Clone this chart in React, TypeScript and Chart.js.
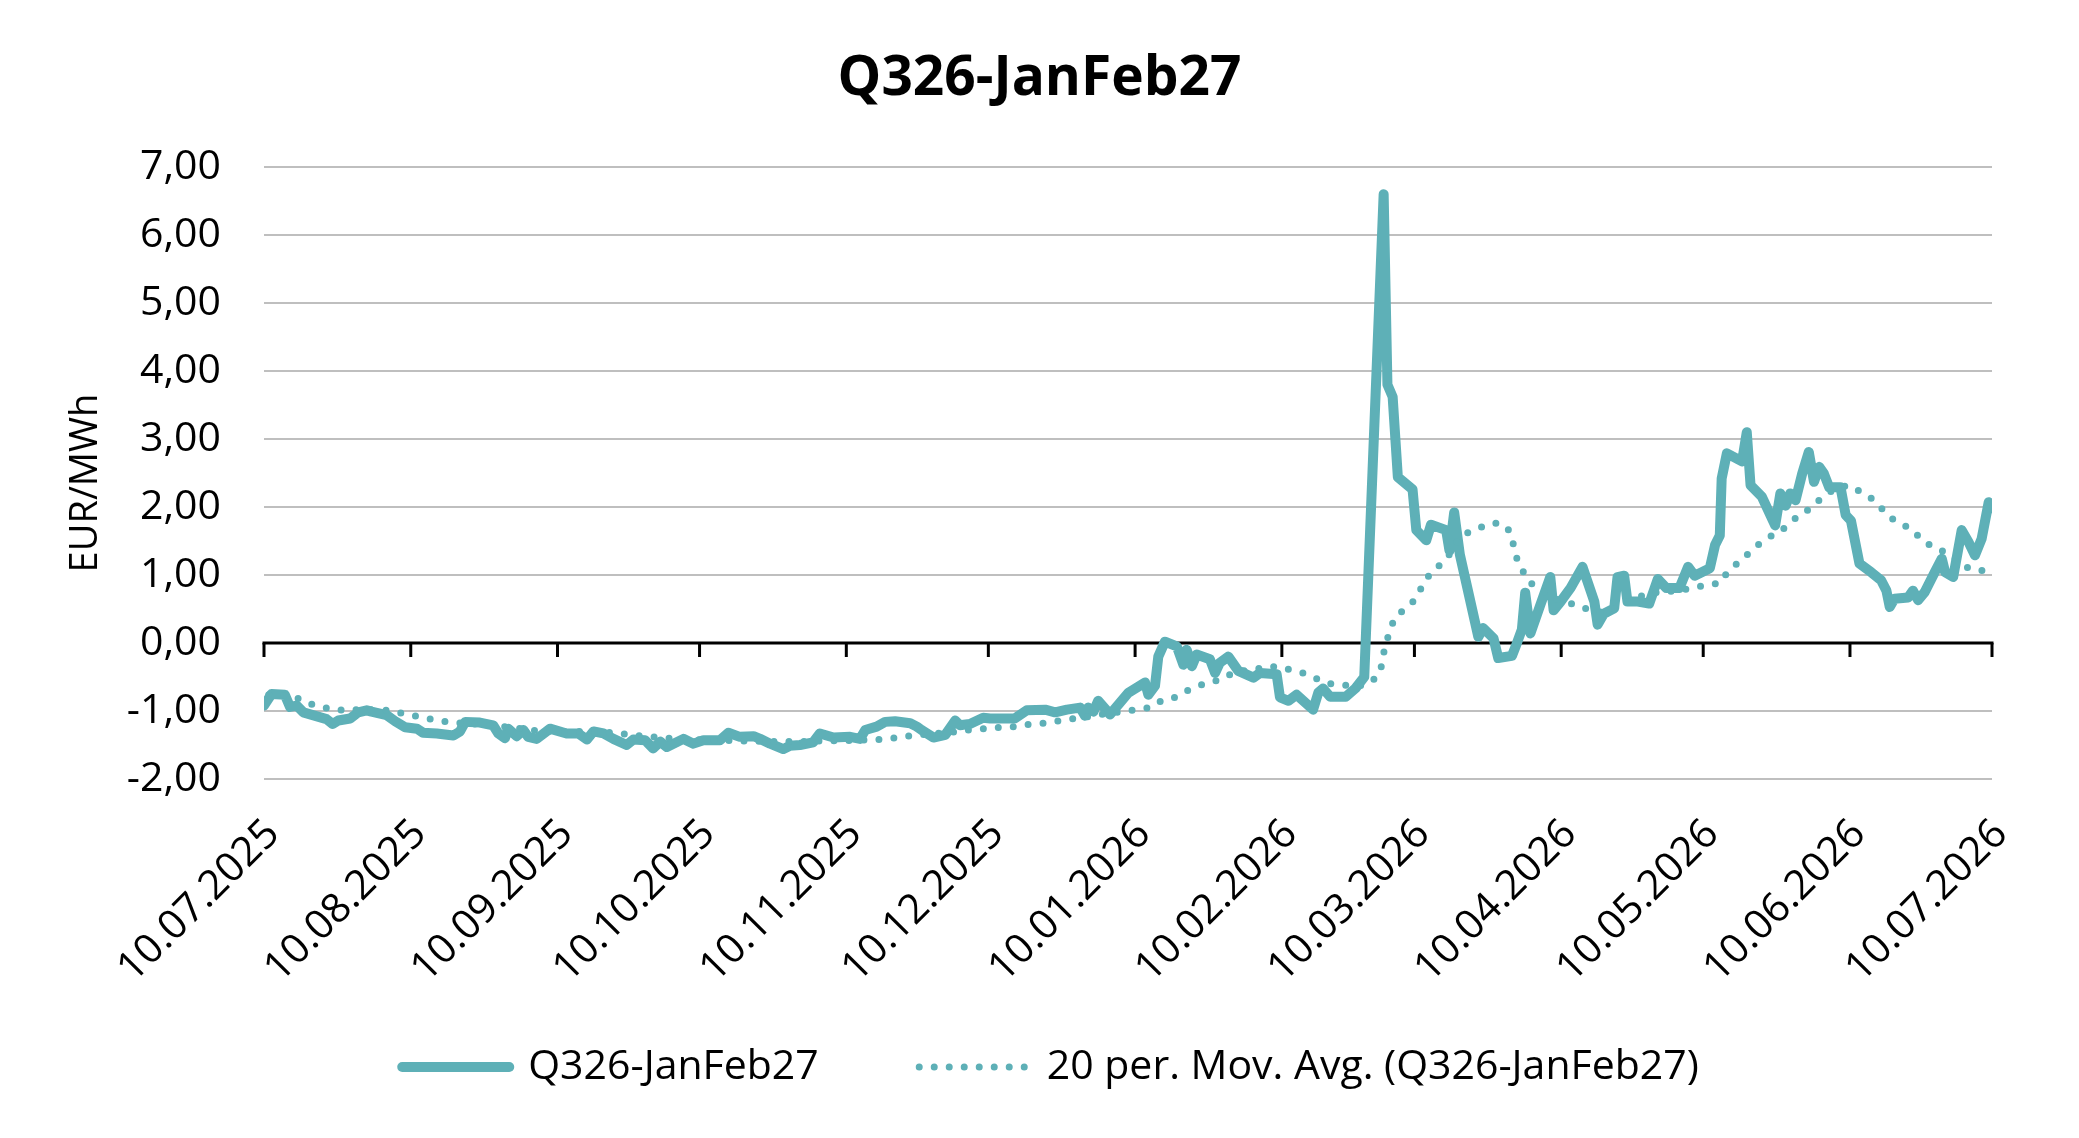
import React, { useEffect, useRef } from 'react';
import { Chart, registerables } from 'chart.js';

Chart.register(...registerables);

const TITLE = 'Q326-JanFeb27';
const SERIES_LABEL = 'Q326-JanFeb27';
const MA_LABEL = '20 per. Mov. Avg. (Q326-JanFeb27)';
const Y_TITLE = 'EUR/MWh';

// x positions are days counted from 10.07.2025
const X_TICK_DAYS = [0, 31, 62, 92, 123, 153, 184, 215, 243, 274, 304, 335, 365];
const X_TICK_LABELS = [
  '10.07.2025', '10.08.2025', '10.09.2025', '10.10.2025', '10.11.2025', '10.12.2025',
  '10.01.2026', '10.02.2026', '10.03.2026', '10.04.2026', '10.05.2026', '10.06.2026', '10.07.2026',
];
const Y_MIN = -2;
const Y_MAX = 7;

const mainDays = [
  0, 1.6, 4.4, 5.5, 6.9, 8.3, 13.2, 14.5, 15.7, 18.2, 19.9, 21.7, 22.7, 25.9, 27.7, 29.8, 32.3, 33.6, 36.5, 40,
  41.4, 42.5, 45.6, 48.4, 49.5, 50.9, 51.6, 53.4, 54.8, 55.8, 57.6, 60.4, 63.9, 66.4, 68.2, 69.6, 71.7, 73.8, 76.6, 78,
  80.5, 82.2, 83.7, 85.1, 88.6, 90.7, 92.8, 96.3, 98.1, 100.5, 103.4, 104.8, 106.9, 109.7, 111.1, 113.2, 116, 117.4, 120.3, 123.8,
  125.9, 127, 129.4, 131.2, 133.3, 136.5, 137.9, 138.9, 141.4, 143.9, 146, 147, 149.1, 151.9, 153.4, 158.6, 161.1, 165, 167.1, 169.6,
  172.4, 173.4, 174.1, 175.2, 176.2, 178.7, 180.8, 182.6, 186.1, 186.8, 188.2, 188.9, 190.3, 192.8, 194.2, 194.9, 196, 197, 199.8, 200.9,
  201.9, 203.7, 205.8, 209, 210.4, 213.9, 214.6, 216.4, 218.1, 221.6, 222.7, 223.7, 225.2, 228.5, 230.5, 232.4, 236.5, 237.3, 238.4, 239.5,
  242.6, 243.4, 245.5, 246.5, 249.7, 250.4, 251.4, 252.6, 256.5, 257.5, 259.7, 260.7, 263.6, 264.6, 265.7, 266.4, 267.5, 269.6, 271.7, 272.4,
  273.9, 276, 278.5, 281, 281.7, 283, 285.2, 285.9, 287.3, 288, 290.2, 292.6, 294.4, 296.2, 299, 300.8, 302.2, 305.4, 306.5, 307.5,
  307.9, 309, 312.2, 313.2, 314, 316.4, 319.2, 320.3, 321.4, 322.4, 323.5, 324.9, 326.3, 327.4, 328.5, 329.5, 330.6, 333, 334.1, 335.2,
  337, 339.5, 341.6, 342.7, 343.4, 344.4, 347.3, 348.3, 349.4, 350.8, 352.9, 354.4, 355.1, 356.8, 358.6, 360, 361.4, 362.8, 364.3, 365,
];
const mainValues = [
  -0.92, -0.75, -0.76, -0.94, -0.92, -1.02, -1.12, -1.19, -1.14, -1.11, -1.02, -0.99, -1.01, -1.06, -1.15, -1.24, -1.26, -1.32, -1.33, -1.36,
  -1.3, -1.16, -1.17, -1.21, -1.33, -1.4, -1.26, -1.37, -1.28, -1.38, -1.41, -1.26, -1.33, -1.33, -1.42, -1.3, -1.33, -1.41, -1.5, -1.42,
  -1.43, -1.55, -1.45, -1.53, -1.41, -1.48, -1.43, -1.43, -1.32, -1.38, -1.37, -1.41, -1.48, -1.56, -1.51, -1.5, -1.46, -1.33, -1.39, -1.38,
  -1.41, -1.28, -1.23, -1.16, -1.15, -1.18, -1.23, -1.28, -1.39, -1.35, -1.14, -1.21, -1.19, -1.1, -1.11, -1.11, -0.99, -0.98, -1.02, -0.98,
  -0.95, -1.07, -0.95, -1.01, -0.85, -1.05, -0.88, -0.73, -0.58, -0.76, -0.63, -0.2, 0.02, -0.05, -0.32, -0.1, -0.34, -0.17, -0.24, -0.44,
  -0.29, -0.2, -0.41, -0.51, -0.44, -0.46, -0.8, -0.85, -0.76, -0.98, -0.73, -0.67, -0.79, -0.79, -0.67, -0.5, 6.6, 3.8, 3.62, 2.44,
  2.26, 1.66, 1.51, 1.74, 1.66, 1.36, 1.92, 1.3, 0.09, 0.22, 0.07, -0.22, -0.19, -0.01, 0.2, 0.74, 0.14, 0.56, 0.97, 0.48,
  0.61, 0.81, 1.12, 0.61, 0.27, 0.43, 0.51, 0.97, 0.99, 0.61, 0.61, 0.58, 0.94, 0.81, 0.81, 1.12, 0.99, 1.1, 1.44, 1.58,
  2.42, 2.79, 2.67, 3.1, 2.32, 2.15, 1.73, 2.2, 2.02, 2.2, 2.1, 2.49, 2.81, 2.37, 2.59, 2.49, 2.29, 2.29, 1.88, 1.8,
  1.17, 1.04, 0.92, 0.77, 0.53, 0.65, 0.67, 0.77, 0.63, 0.75, 1.04, 1.24, 1.04, 0.97, 1.66, 1.49, 1.29, 1.53, 2.07, 1.98,
];

const maDays = [
  1, 6.3, 8.9, 11.7, 14.5, 17.3, 20.3, 23.1, 25.9, 28.9, 31.7, 34.5, 37.3, 40.3, 46, 51.8, 54.6, 57.5, 62, 66.2,
  69, 74.9, 77.7, 80.7, 83.3, 88, 95, 101, 107, 113, 119, 125, 129.8, 132.8, 135.6, 140, 144, 147, 149.8, 152.8,
  155.7, 158.6, 161.4, 164.4, 167.3, 170.1, 172.9, 175.9, 178.7, 181.5, 184.3, 187.2, 189.8, 192.4, 195, 197.7, 200.4, 203, 206, 209,
  211.7, 214.5, 217.1, 219.9, 222.5, 225.2, 228.5, 231.4, 234, 235.8, 236.8, 237.8, 238.7, 240.7, 242.9, 244.3, 245.8, 247.8, 249.9, 252.9,
  255.6, 258.2, 260.9, 263.1, 263.9, 264.6, 265.8, 267.3, 269.6, 272.3, 274.7, 277.5, 280.1, 282.9, 285.6, 288, 290.9, 293.7, 296.4, 299.2,
  302, 304.9, 307.8, 309.2, 311.4, 313.6, 315.7, 318, 320.5, 322.6, 324.9, 327, 329.2, 331.7, 334.5, 336.8, 339.3, 341.4, 343.4, 345.7,
  348.2, 350.2, 352.7, 355.2, 357.5, 360, 362.7, 365,
];
const maValues = [
  -0.76, -0.78, -0.88, -0.93, -0.98, -0.99, -0.98, -0.98, -0.99, -1.03, -1.07, -1.11, -1.15, -1.17, -1.2, -1.24, -1.26, -1.29, -1.3, -1.3,
  -1.31, -1.32, -1.36, -1.37, -1.39, -1.41, -1.43, -1.44, -1.45, -1.45, -1.44, -1.43, -1.42, -1.4, -1.37, -1.34, -1.32, -1.3, -1.27, -1.26,
  -1.24, -1.23, -1.2, -1.18, -1.15, -1.12, -1.1, -1.06, -1.03, -1.01, -0.98, -0.95, -0.84, -0.8, -0.7, -0.62, -0.58, -0.49, -0.42, -0.39,
  -0.35, -0.35, -0.4, -0.45, -0.53, -0.6, -0.62, -0.63, -0.57, -0.42, -0.04, 0.17, 0.35, 0.49, 0.62, 0.79, 0.97, 1.11, 1.25, 1.59,
  1.65, 1.74, 1.77, 1.65, 1.45, 1.25, 1.07, 0.89, 0.8, 0.66, 0.6, 0.56, 0.48, 0.45, 0.51, 0.61, 0.69, 0.74, 0.76, 0.77,
  0.82, 0.85, 0.89, 1.06, 1.18, 1.32, 1.45, 1.56, 1.65, 1.79, 1.9, 2.0, 2.15, 2.26, 2.32, 2.24, 2.14, 2.0, 1.85, 1.75,
  1.67, 1.51, 1.41, 1.33, 1.22, 1.1, 1.06, 1.13,
];

const TEAL = '#5eb0b7';
const FONT = 'Open Sans';
const BODY_SIZE = 41;
const MAIN_WIDTH = 10;
const MA_WIDTH = 7;
const MA_DASH = [0, 15];

const decorPlugin = {
  id: 'decor',
  beforeDatasetsDraw(chart: any) {
    const { ctx, scales } = chart;
    const x = scales.x;
    const y = scales.y;
    const y0 = y.getPixelForValue(0);
    ctx.save();
    ctx.strokeStyle = '#000';
    ctx.lineWidth = 3;
    ctx.beginPath();
    ctx.moveTo(x.getPixelForValue(X_TICK_DAYS[0]) - 1.5, y0);
    ctx.lineTo(x.getPixelForValue(X_TICK_DAYS[X_TICK_DAYS.length - 1]) + 1.5, y0);
    ctx.stroke();
    for (const d of X_TICK_DAYS) {
      const px = x.getPixelForValue(d);
      ctx.beginPath();
      ctx.moveTo(px, y0);
      ctx.lineTo(px, y0 + 14);
      ctx.stroke();
    }
    ctx.restore();
  },
  afterDraw(chart: any) {
    const { ctx } = chart;
    ctx.save();
    // y axis title
    ctx.fillStyle = '#000';
    ctx.font = `38px "${FONT}"`;
    ctx.textAlign = 'center';
    ctx.textBaseline = 'middle';
    ctx.translate(86, 483);
    ctx.rotate(-Math.PI / 2);
    ctx.fillText(Y_TITLE, 0, 0);
    ctx.restore();

    // legend
    const items = chart.data.datasets.map((ds: any) => ({
      label: ds.label,
      width: ds.borderWidth,
      dash: ds.borderDash || [],
    }));
    ctx.save();
    ctx.font = `${BODY_SIZE}px "${FONT}"`;
    const sampleLen = 117;
    const gap = 14;
    const itemGap = 97;
    const widths = items.map((it: any) => ctx.measureText(it.label).width);
    const total =
      items.length * (sampleLen + gap) + widths.reduce((a: number, b: number) => a + b, 0) + itemGap * (items.length - 1);
    let lx = 1048 - total / 2;
    const ly = 1067;
    items.forEach((it: any, i: number) => {
      ctx.strokeStyle = TEAL;
      ctx.lineWidth = it.width;
      ctx.lineCap = 'round';
      ctx.setLineDash(it.dash);
      ctx.beginPath();
      ctx.moveTo(lx + it.width / 2, ly);
      ctx.lineTo(lx + sampleLen - it.width / 2, ly);
      ctx.stroke();
      ctx.setLineDash([]);
      ctx.fillStyle = '#000';
      ctx.textAlign = 'left';
      ctx.textBaseline = 'middle';
      ctx.fillText(it.label, lx + sampleLen + gap, ly);
      lx += sampleLen + gap + widths[i] + itemGap;
    });
    ctx.restore();
  },
};

export default function App() {
  const ref = useRef<HTMLCanvasElement | null>(null);

  useEffect(() => {
    let chart: Chart | null = null;
    let cancelled = false;
    const make = () => {
      if (cancelled || !ref.current) return;
      Chart.defaults.font.family = FONT;
      chart = new Chart(ref.current, {
        type: 'line',
        data: {
          datasets: [
            {
              label: SERIES_LABEL,
              data: mainDays.map((d, i) => ({ x: d, y: mainValues[i] })),
              borderColor: TEAL,
              backgroundColor: TEAL,
              borderWidth: MAIN_WIDTH,
              borderCapStyle: 'round',
              borderJoinStyle: 'round',
              pointRadius: 0,
              tension: 0,
              order: 2,
            },
            {
              label: MA_LABEL,
              data: maDays.map((d, i) => ({ x: d, y: maValues[i] })),
              borderColor: TEAL,
              backgroundColor: TEAL,
              borderWidth: MA_WIDTH,
              borderDash: MA_DASH,
              borderCapStyle: 'round',
              borderJoinStyle: 'round',
              pointRadius: 0,
              tension: 0,
              order: 1,
            },
          ],
        },
        options: {
          animation: false,
          responsive: false,
          devicePixelRatio: 1,
          layout: { padding: { left: 87, right: 87, top: 0, bottom: 0 } },
          plugins: {
            title: {
              display: true,
              text: TITLE,
              color: '#000',
              font: { family: FONT, size: 55, weight: 'bold' },
              padding: { top: 46, bottom: 55 },
            },
            legend: { display: false },
            tooltip: { enabled: false },
          },
          scales: {
            x: {
              type: 'linear',
              min: X_TICK_DAYS[0],
              max: X_TICK_DAYS[X_TICK_DAYS.length - 1],
              afterBuildTicks: (s: any) => {
                s.ticks = X_TICK_DAYS.map((v) => ({ value: v }));
              },
              afterFit: (s: any) => {
                s.height = 359;
              },
              ticks: {
                autoSkip: false,
                minRotation: 45,
                maxRotation: 45,
                padding: 31,
                labelOffset: 9,
                color: '#000',
                font: { family: FONT, size: BODY_SIZE },
                callback: (v: any) => {
                  const i = X_TICK_DAYS.indexOf(Number(v));
                  return i >= 0 ? X_TICK_LABELS[i] : '';
                },
              },
              grid: { display: false, drawTicks: false },
              border: { display: false },
            },
            y: {
              min: Y_MIN,
              max: Y_MAX,
              afterFit: (s: any) => {
                s.width = 177;
              },
              ticks: {
                stepSize: 1,
                padding: 43,
                color: '#000',
                font: { family: FONT, size: BODY_SIZE },
                callback: (v: any) => Number(v).toFixed(2).replace('.', ','),
              },
              grid: { color: '#bfbfbf', lineWidth: 2, drawTicks: false },
              border: { display: false },
            },
          },
        },
        plugins: [decorPlugin],
      } as any);
    };
    const loads = [
      document.fonts.load(`${BODY_SIZE}px "${FONT}"`),
      document.fonts.load(`bold 55px "${FONT}"`),
    ];
    Promise.all(loads).then(make, make);
    return () => {
      cancelled = true;
      if (chart) chart.destroy();
    };
  }, []);

  return (
    <div style={{ position: 'fixed', left: 0, top: 0, width: 2079, height: 1138, background: '#fff' }}>
      <canvas ref={ref} width={2079} height={1138} style={{ display: 'block', width: 2079, height: 1138 }} />
    </div>
  );
}
